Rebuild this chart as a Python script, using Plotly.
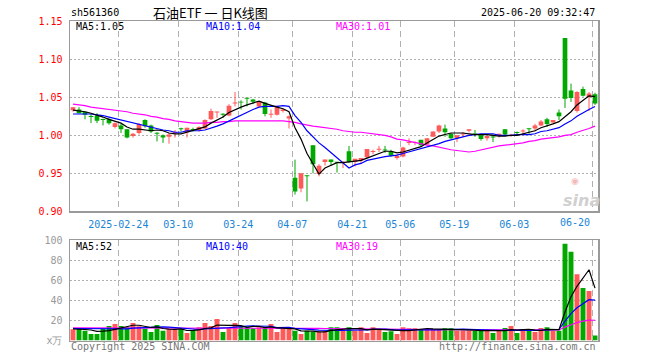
import plotly.graph_objects as go

# ---------------- data ----------------
dates = [
    "2025-02-12", "2025-02-13", "2025-02-14", "2025-02-17", "2025-02-18", "2025-02-19", "2025-02-20",
    "2025-02-21", "2025-02-24", "2025-02-25", "2025-02-26", "2025-02-27", "2025-02-28",
    "2025-03-03", "2025-03-04", "2025-03-05", "2025-03-06", "2025-03-07", "2025-03-10", "2025-03-11",
    "2025-03-12", "2025-03-13", "2025-03-14", "2025-03-17", "2025-03-18", "2025-03-19", "2025-03-20",
    "2025-03-21", "2025-03-24", "2025-03-25", "2025-03-26", "2025-03-27", "2025-03-28", "2025-03-31",
    "2025-04-01", "2025-04-02", "2025-04-03", "2025-04-07", "2025-04-08", "2025-04-09", "2025-04-10",
    "2025-04-11", "2025-04-14", "2025-04-15", "2025-04-16", "2025-04-17", "2025-04-18", "2025-04-21",
    "2025-04-22", "2025-04-23", "2025-04-24", "2025-04-25", "2025-04-28", "2025-04-29", "2025-04-30",
    "2025-05-06", "2025-05-07", "2025-05-08", "2025-05-09", "2025-05-12", "2025-05-13", "2025-05-14",
    "2025-05-15", "2025-05-16", "2025-05-19", "2025-05-20", "2025-05-21", "2025-05-22", "2025-05-23",
    "2025-05-26", "2025-05-27", "2025-05-28", "2025-05-29", "2025-05-30",
    "2025-06-03", "2025-06-04", "2025-06-05", "2025-06-06", "2025-06-09", "2025-06-10", "2025-06-11",
    "2025-06-12", "2025-06-13", "2025-06-16", "2025-06-17", "2025-06-18", "2025-06-19", "2025-06-20",
]

opens = [1.033, 1.034, 1.031, 1.025, 1.026, 1.021, 1.021, 1.011, 1.013, 1.008,
         0.999, 1.003, 1.020, 1.013, 1.003, 1.000, 0.998, 1.003, 1.009, 1.004,
         1.008, 1.007, 1.009, 1.021, 1.030, 1.028, 1.026, 1.042, 1.044, 1.049,
         1.047, 1.038, 1.043, 1.027, 1.027, 1.032, 1.022, 0.944, 0.930, 0.947,
         0.987, 0.949, 0.965, 0.968, 0.965, 0.964, 0.979, 0.965, 0.967, 0.971,
         0.978, 0.981, 0.981, 0.979, 0.970, 0.972, 0.990, 0.990, 0.994, 0.988,
         0.998, 1.005, 1.009, 1.002, 0.996, 1.001, 1.006, 1.002, 1.000, 0.996,
         0.998, 1.000, 1.008, 0.999, 1.004, 1.005, 1.009, 1.009, 1.013, 1.021,
         1.017, 1.030, 1.128, 1.059, 1.032, 1.061, 1.050, 1.054]

highs = [1.037, 1.037, 1.031, 1.028, 1.029, 1.022, 1.023, 1.017, 1.015, 1.008,
         1.003, 1.016, 1.021, 1.014, 1.004, 1.001, 1.003, 1.007, 1.010, 1.010,
         1.010, 1.012, 1.021, 1.035, 1.031, 1.029, 1.041, 1.057, 1.046, 1.049,
         1.048, 1.045, 1.044, 1.034, 1.039, 1.035, 1.026, 0.968, 0.950, 0.947,
         0.987, 0.962, 0.968, 0.968, 0.965, 0.966, 0.986, 0.969, 0.970, 0.982,
         0.981, 0.986, 0.986, 0.981, 0.975, 0.985, 0.996, 0.992, 0.994, 0.996,
         1.005, 1.014, 1.014, 1.003, 1.000, 1.004, 1.008, 1.007, 1.000, 0.999,
         1.001, 1.002, 1.008, 1.002, 1.005, 1.008, 1.009, 1.015, 1.020, 1.023,
         1.020, 1.034, 1.128, 1.068, 1.058, 1.064, 1.057, 1.056]

lows = [1.031, 1.029, 1.021, 1.016, 1.016, 1.013, 1.014, 1.009, 1.003, 0.996,
        0.997, 1.001, 1.010, 1.003, 0.992, 0.990, 0.989, 0.997, 1.005, 0.997,
        1.005, 1.005, 1.008, 1.020, 1.023, 1.023, 1.025, 1.038, 1.034, 1.038,
        1.041, 1.037, 1.025, 1.023, 1.026, 1.030, 1.009, 0.922, 0.925, 0.913,
        0.950, 0.946, 0.960, 0.960, 0.951, 0.957, 0.964, 0.959, 0.962, 0.970,
        0.975, 0.978, 0.977, 0.972, 0.968, 0.971, 0.987, 0.987, 0.986, 0.987,
        0.998, 1.003, 0.998, 0.995, 0.991, 0.998, 1.004, 0.998, 0.993, 0.993,
        0.991, 0.997, 1.000, 0.998, 1.001, 1.002, 1.002, 1.005, 1.012, 1.011,
        1.016, 1.020, 1.036, 1.044, 1.030, 1.051, 1.032, 1.040]

closes = [1.037, 1.029, 1.027, 1.024, 1.019, 1.020, 1.016, 1.016, 1.008, 0.997,
          1.002, 1.015, 1.012, 1.005, 1.002, 0.997, 1.001, 1.004, 1.008, 1.010,
          1.007, 1.011, 1.020, 1.032, 1.031, 1.027, 1.039, 1.043, 1.043, 1.048,
          1.044, 1.045, 1.028, 1.028, 1.038, 1.034, 1.025, 0.926, 0.950, 0.946,
          0.962, 0.960, 0.968, 0.965, 0.964, 0.965, 0.965, 0.969, 0.970, 0.982,
          0.979, 0.982, 0.980, 0.973, 0.973, 0.984, 0.991, 0.991, 0.987, 0.996,
          1.005, 1.013, 1.004, 0.996, 1.000, 1.002, 1.008, 1.001, 0.995, 0.999,
          0.997, 1.002, 1.001, 1.000, 1.003, 1.006, 1.008, 1.013, 1.018, 1.015,
          1.020, 1.025, 1.048, 1.049, 1.057, 1.052, 1.055, 1.042]

ma5 = [1.033, 1.032, 1.031, 1.029, 1.027, 1.024, 1.021, 1.019, 1.016, 1.011,
       1.008, 1.008, 1.007, 1.006, 1.007, 1.006, 1.003, 1.002, 1.002, 1.004,
       1.006, 1.008, 1.011, 1.016, 1.020, 1.024, 1.030, 1.034, 1.037, 1.040,
       1.043, 1.045, 1.042, 1.039, 1.037, 1.035, 1.031, 1.010, 0.995, 0.976,
       0.962, 0.949, 0.957, 0.960, 0.964, 0.964, 0.965, 0.966, 0.967, 0.970,
       0.973, 0.976, 0.979, 0.979, 0.977, 0.978, 0.980, 0.982, 0.985, 0.990,
       0.994, 0.999, 1.001, 1.003, 1.003, 1.003, 1.002, 1.001, 1.001, 1.001,
       1.000, 0.999, 0.999, 1.000, 1.000, 1.002, 1.004, 1.006, 1.010, 1.012,
       1.015, 1.018, 1.025, 1.031, 1.040, 1.046, 1.052, 1.051]

ma10 = [1.028, 1.028, 1.028, 1.028, 1.027, 1.026, 1.024, 1.022, 1.021, 1.019,
        1.016, 1.014, 1.013, 1.011, 1.009, 1.007, 1.006, 1.004, 1.004, 1.006,
        1.006, 1.006, 1.007, 1.009, 1.012, 1.015, 1.019, 1.023, 1.026, 1.030,
        1.034, 1.037, 1.038, 1.038, 1.038, 1.039, 1.038, 1.026, 1.017, 1.006,
        0.998, 0.990, 0.984, 0.977, 0.970, 0.963, 0.957, 0.961, 0.963, 0.967,
        0.969, 0.971, 0.972, 0.973, 0.974, 0.976, 0.978, 0.981, 0.982, 0.984,
        0.986, 0.989, 0.992, 0.994, 0.997, 0.999, 1.000, 1.001, 1.002, 1.002,
        1.002, 1.000, 1.000, 1.000, 1.001, 1.001, 1.001, 1.002, 1.005, 1.006,
        1.008, 1.010, 1.015, 1.019, 1.025, 1.030, 1.034, 1.038]

ma30 = [1.041, 1.040, 1.039, 1.037, 1.036, 1.035, 1.034, 1.033, 1.032, 1.031,
        1.029, 1.028, 1.027, 1.025, 1.024, 1.022, 1.021, 1.019, 1.018, 1.017,
        1.016, 1.016, 1.016, 1.017, 1.017, 1.018, 1.018, 1.019, 1.019, 1.019,
        1.019, 1.019, 1.019, 1.019, 1.019, 1.019, 1.018, 1.017, 1.015, 1.013,
        1.012, 1.011, 1.010, 1.009, 1.008, 1.006, 1.005, 1.004, 1.004, 1.003,
        1.002, 1.001, 1.000, 0.998, 0.995, 0.994, 0.992, 0.991, 0.989, 0.987,
        0.986, 0.984, 0.983, 0.981, 0.980, 0.979, 0.978, 0.979, 0.981, 0.983,
        0.985, 0.986, 0.987, 0.988, 0.989, 0.990, 0.992, 0.993, 0.995, 0.996,
        0.997, 0.998, 1.000, 1.001, 1.004, 1.006, 1.009, 1.012]

volumes = [11.2, 12.2, 9.8, 6.5, 6.5, 11.5, 14.5, 16.5, 14.5, 13.2,
           17.5, 14.2, 11.8, 8.5, 15.5, 9.8, 11.2, 10.5, 11.2, 7.5,
           10.5, 13.2, 17.5, 14.5, 21.5, 8.5, 13.2, 17.5, 13.8, 13.2,
           12.2, 13.2, 12.2, 16.5, 8.5, 11.5, 11.5, 9.8, 6.5, 9.8,
           8.8, 8.8, 9.8, 13.2, 13.2, 9.8, 13.2, 9.8, 13.2, 7.5,
           13.2, 11.8, 8.5, 9.2, 6.5, 13.2, 12.2, 12.2, 11.2, 11.2,
           11.2, 11.2, 12.2, 12.2, 9.8, 9.8, 9.8, 9.8, 9.8, 9.8,
           7.5, 9.8, 12.5, 14.5, 7.5, 9.8, 11.5, 8.5, 12.5, 13.2,
           9.8, 9.8, 96.5, 88.5, 66.0, 52.5, 49.5, 5.0]

vol_ma5 = [11.5, 11.5, 11.0, 10.5, 9.2, 9.3, 9.8, 11.1, 12.7, 14.0,
           15.2, 15.2, 14.2, 13.0, 13.5, 12.0, 11.4, 11.1, 11.6, 10.0,
           10.2, 10.6, 12.0, 12.6, 15.4, 15.0, 15.0, 15.0, 14.9, 13.2,
           14.0, 14.0, 12.9, 13.5, 12.5, 12.4, 12.0, 11.6, 9.6, 9.8,
           9.3, 8.7, 8.7, 10.1, 10.8, 11.0, 11.8, 11.8, 11.8, 10.7,
           11.4, 11.1, 10.8, 10.0, 9.8, 9.8, 9.9, 10.7, 11.1, 12.0,
           11.6, 11.4, 11.4, 11.6, 11.3, 11.0, 10.8, 10.3, 9.8, 9.8,
           9.3, 9.3, 9.9, 10.8, 10.4, 10.8, 11.2, 10.4, 10.0, 11.1,
           11.1, 10.8, 28.4, 43.6, 54.1, 62.7, 70.6, 52.3]

vol_ma10 = [12.0, 12.0, 11.8, 11.6, 11.4, 11.4, 11.6, 11.8, 11.8, 11.6,
            12.3, 12.5, 12.7, 12.9, 13.8, 13.6, 13.3, 12.7, 12.3, 11.8,
            11.1, 11.0, 11.5, 12.1, 12.7, 12.6, 12.8, 13.5, 13.8, 14.3,
            14.5, 14.5, 14.0, 14.2, 12.9, 13.2, 13.0, 12.2, 11.5, 11.2,
            10.8, 10.4, 10.2, 9.8, 10.3, 10.1, 10.3, 10.3, 11.0, 10.7,
            11.2, 11.5, 11.3, 10.9, 10.3, 10.6, 10.5, 10.8, 10.6, 10.9,
            10.7, 10.7, 11.0, 11.3, 11.7, 11.3, 11.1, 10.8, 10.7, 10.6,
            10.2, 10.1, 10.1, 10.3, 10.1, 10.1, 10.3, 10.1, 10.4, 10.7,
            11.0, 11.0, 19.4, 26.8, 32.6, 36.9, 40.7, 40.3]

vol_ma30 = [12.6, 12.6, 12.5, 12.5, 12.4, 12.4, 12.4, 12.5, 12.5, 12.5,
            12.6, 12.6, 12.6, 12.5, 12.5, 12.4, 12.4, 12.3, 12.3, 12.2,
            12.2, 12.2, 12.3, 12.4, 12.5, 12.5, 12.6, 12.7, 12.8, 12.8,
            12.8, 12.8, 12.7, 12.7, 12.6, 12.6, 12.6, 12.5, 12.4, 12.3,
            12.2, 12.1, 12.0, 11.9, 11.9, 11.8, 11.7, 11.6, 11.5, 11.4,
            11.3, 11.2, 11.1, 11.0, 10.9, 10.9, 10.9, 10.9, 10.9, 10.9,
            10.9, 10.9, 10.9, 10.9, 10.8, 10.8, 10.8, 10.7, 10.7, 10.7,
            10.6, 10.6, 10.6, 10.6, 10.5, 10.5, 10.5, 10.5, 10.5, 10.5,
            10.5, 10.5, 13.4, 16.0, 17.9, 19.3, 20.4, 20.2]

tick_dates = ["2025-02-24", "2025-03-10", "2025-03-24", "2025-04-07", "2025-04-21",
              "2025-05-06", "2025-05-19", "2025-06-03", "2025-06-20"]
tick_labels = ["2025-02-24", "03-10", "03-24", "04-07", "04-21", "05-06", "05-19", "06-03", "06-20"]
price_ticks = [0.90, 0.95, 1.00, 1.05, 1.10, 1.15]
vol_ticks = [0, 20, 40, 60, 80, 100]
vol_tick_labels = ["x万", "20", "40", "60", "80", "100"]

title_code = "sh561360"
title_text = "石油ETF 一 日K线图"
time_text = "2025-06-20 09:32:47"
price_legend = ["MA5:1.05", "MA10:1.04", "MA30:1.01"]
vol_legend = ["MA5:52", "MA10:40", "MA30:19"]

# ---------------- styling ----------------
W, H = 660, 360
RED = "#ff5a5a"
GREEN = "#00a800"
MONO = "DejaVu Sans Mono"
GRID = "#b0b0b0"
FRAME = "#9a9a9a"
XLAB = "#1a85d6"
C_MA5, C_MA10, C_MA30 = "#000000", "#0000ff", "#ff00ff"


def px_x(p):
    return p / W


def px_y(p):
    return 1 - p / H


xs = list(range(len(dates)))
up = [c >= o for o, c in zip(opens, closes)]
colors = [RED if u else GREEN for u in up]
body_base = [min(o, c) for o, c in zip(opens, closes)]
body_len = [max(abs(c - o), 0.0013) for o, c in zip(opens, closes)]

fig = go.Figure()

# wicks
for flag, col in ((True, RED), (False, GREEN)):
    wx, wy = [], []
    for i in xs:
        if up[i] == flag:
            wx += [i, i, None]
            wy += [lows[i], highs[i], None]
    fig.add_trace(go.Scatter(x=wx, y=wy, mode="lines", line=dict(color=col, width=1),
                             xaxis="x", yaxis="y", hoverinfo="skip"))

# bodies
fig.add_trace(go.Bar(x=xs, y=body_len, base=body_base, width=0.78,
                     marker=dict(color=colors, line=dict(width=0)),
                     xaxis="x", yaxis="y", hoverinfo="skip"))

# price MAs
for arr, col in ((ma30, C_MA30), (ma10, C_MA10), (ma5, C_MA5)):
    fig.add_trace(go.Scatter(x=xs, y=arr, mode="lines", line=dict(color=col, width=1.2),
                             xaxis="x", yaxis="y", hoverinfo="skip"))

# volume bars
fig.add_trace(go.Bar(x=xs, y=volumes, width=0.82,
                     marker=dict(color=colors, line=dict(width=0)),
                     xaxis="x2", yaxis="y2", hoverinfo="skip"))

for arr, col in ((vol_ma30, C_MA30), (vol_ma10, C_MA10), (vol_ma5, C_MA5)):
    fig.add_trace(go.Scatter(x=xs, y=arr, mode="lines", line=dict(color=col, width=1.2),
                             xaxis="x2", yaxis="y2", hoverinfo="skip"))

tickpos = [dates.index(d) - 0.45 for d in tick_dates]
# the last label is pulled inside the frame (as in the reference); drawn separately below
shown_labels = tick_labels[:-1] + [""]
xdom = [px_x(70), px_x(598)]

common_x = dict(domain=xdom, range=[-0.5, len(dates) - 0.5], showgrid=True,
                gridcolor=GRID, griddash="6px,4px", gridwidth=1, zeroline=False,
                showline=True, mirror=True, linecolor=FRAME, linewidth=1.5,
                ticks="", tickvals=tickpos, fixedrange=True, automargin=False)
common_y = dict(showgrid=True, gridcolor=GRID, griddash="2px,2px", gridwidth=1,
                zeroline=False, showline=True, mirror=True, linecolor=FRAME,
                linewidth=1.5, ticks="", fixedrange=True, ticklabelstandoff=4,
                automargin=False)

fig.update_layout(
    width=W, height=H, margin=dict(l=0, r=0, t=0, b=0, autoexpand=False),
    paper_bgcolor="white", plot_bgcolor="white", showlegend=False,
    barmode="overlay",
    xaxis=dict(**common_x, anchor="y", ticktext=shown_labels, showticklabels=True,
               tickfont=dict(family=MONO, size=10, color=XLAB), ticklabelstandoff=3),
    yaxis=dict(**common_y, domain=[px_y(211.3), px_y(21.3)], range=[0.90, 1.15],
               tickvals=price_ticks, ticktext=["%.2f" % v for v in price_ticks],
               tickfont=dict(family=MONO, size=10, color="#ff0000"), anchor="x"),
    xaxis2=dict(**common_x, anchor="y2", showticklabels=False),
    yaxis2=dict(**common_y, domain=[px_y(340.5), px_y(240.3)], range=[0, 100],
                tickvals=vol_ticks, ticktext=vol_tick_labels,
                tickfont=dict(family=MONO, size=10, color="#999999"), anchor="x2"),
)

ann = []


def text(s, x, y, color="#000000", size=10, xanchor="left", family=MONO):
    ann.append(dict(text=s, x=px_x(x), y=px_y(y), xref="paper", yref="paper",
                    xanchor=xanchor, yanchor="middle", showarrow=False,
                    font=dict(family=family, size=size, color=color)))


text(title_code, 69, 13)
text(title_text, 210, 12.5, size=13, xanchor="center", family="Noto Sans CJK SC")
text(time_text, 597, 13, xanchor="right")
text(tick_labels[-1], 592, 222, color=XLAB, xanchor="right")
for s, x0, col in zip(price_legend, (74, 204, 334), (C_MA5, C_MA10, C_MA30)):
    text(s, x0, 27, color=col)
for s, x0, col in zip(vol_legend, (74, 204, 334), (C_MA5, C_MA10, C_MA30)):
    text(s, x0, 246, color=col)
text("Copyright 2025 SINA.COM", 69, 346, color="#777777")
text("http://finance.sina.com.cn", 598, 346, color="#777777", xanchor="right")
ann.append(dict(text="<b><i>sina</i></b>", x=px_x(581), y=px_y(200), xref="paper", yref="paper",
                xanchor="center", yanchor="middle", showarrow=False,
                font=dict(family="DejaVu Sans", size=16, color="#d0d0d0")))
ann.append(dict(text="◉", x=px_x(575), y=px_y(181), xref="paper", yref="paper",
                xanchor="center", yanchor="middle", showarrow=False,
                font=dict(family="DejaVu Sans", size=9, color="#f4b8b8")))
fig.update_layout(annotations=ann)

fig.write_html("out.html", config={"displayModeBar": False, "staticPlot": True},
               post_script="document.body.style.margin='0';document.body.style.padding='0';")
